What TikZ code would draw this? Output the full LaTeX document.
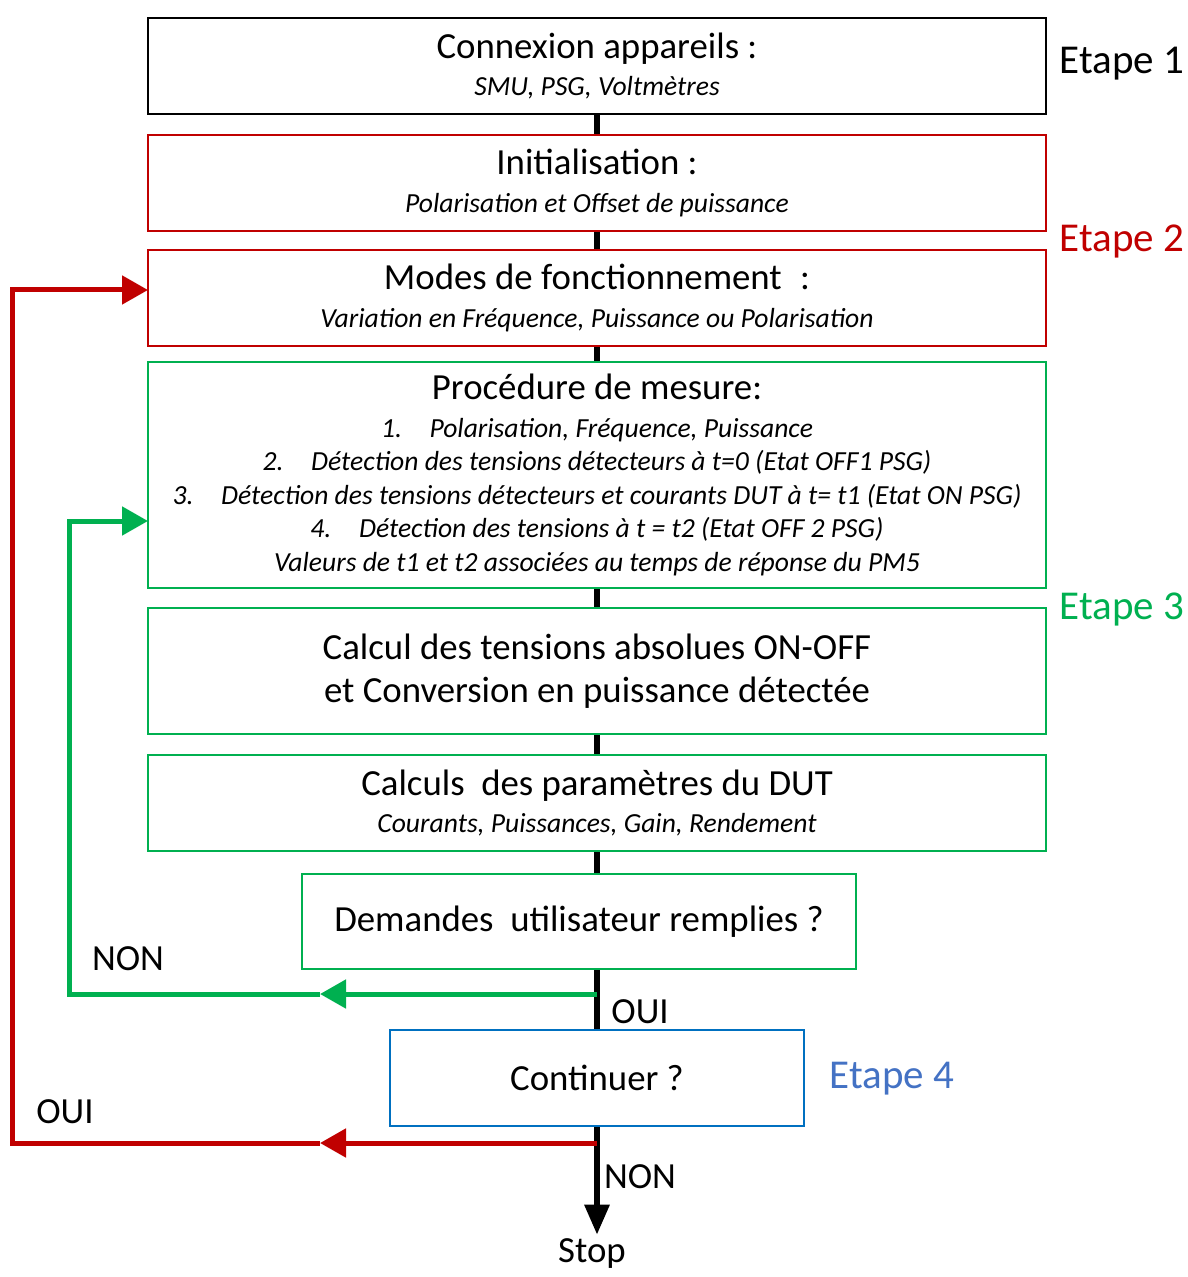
\documentclass[tikz,border=0pt]{standalone}
\usepackage{fontspec}
\setmainfont{Carlito}
\usetikzlibrary{arrows.meta,positioning}
\definecolor{stepred}{HTML}{C00000}
\definecolor{stepgreen}{HTML}{00B050}
\definecolor{stepblue}{HTML}{0070C0}
\definecolor{labelblue}{HTML}{4472C4}
\newcommand{\boxhead}[1]{{\fontsize{18.4}{21}\selectfont #1}}

\begin{document}
\begin{tikzpicture}[x=0.5pt, y=-0.5pt,
  box/.style={rectangle, draw, line width=1pt, minimum width=449pt, minimum height=48pt, align=center, inner sep=0pt, font=\fontsize{13.8}{16.8}\selectfont},
  trunk/.style={line width=3pt},
  feedback/.style={line width=2.5pt},
  head/.style={-{Triangle[length=13pt,width=14pt]}},
  answer/.style={font=\fontsize{18.4}{21}\selectfont},
  stage/.style={font=\fontsize{20.5}{24}\selectfont}
]
  \useasboundingbox (0,0) rectangle (1187,1277);

  % Etape 1
  \node[box, line width=1.2pt] (conn) at (597,66) {\boxhead{Connexion appareils :}\\[2pt]\textit{SMU, PSG, Voltmètres}};

  % Etape 2
  \node[box, draw=stepred] (init) at (597,183) {\boxhead{Initialisation :}\\[2pt]\textit{Polarisation et Offset de puissance}};
  \node[box, draw=stepred] (modes) at (597,298) {\boxhead{Modes de fonctionnement\enspace:}\\[2pt]\textit{Variation en Fréquence, Puissance ou Polarisation}};

  % Etape 3
  \node[box, draw=stepgreen, minimum height=113pt] (mesure) at (597,475) {\boxhead{Procédure de mesure:}\\[2pt]
    \textit{1.\hspace{1em}Polarisation, Fréquence, Puissance}\\
    \textit{2.\hspace{1em}Détection des tensions détecteurs à t=0 (Etat OFF1 PSG)}\\
    \textit{3.\hspace{1em}Détection des tensions détecteurs et courants DUT à t= t1 (Etat ON PSG)}\\
    \textit{4.\hspace{1em}Détection des tensions à t = t2 (Etat OFF 2 PSG)}\\
    \textit{Valeurs de t1 et t2 associées au temps de réponse du PM5}};
  \node[box, draw=stepgreen, minimum height=63pt, font=\fontsize{18.4}{21.5}\selectfont] (conv) at (597,671) {Calcul des tensions absolues ON-OFF\\ et Conversion en puissance détectée};
  \node[box, draw=stepgreen] (param) at (597,803) {\boxhead{Calculs~ des paramètres du DUT}\\[2pt]\textit{Courants, Puissances, Gain, Rendement}};
  \node[box, draw=stepgreen, minimum width=277pt, minimum height=47.5pt, font=\fontsize{18.4}{21}\selectfont] (demande) at (579,921.5) {Demandes~ utilisateur remplies ?};

  % Etape 4
  \node[box, draw=stepblue, minimum width=207pt, font=\fontsize{18.4}{21}\selectfont] (cont) at (597,1078) {Continuer ?};
  \node[answer, inner sep=2pt] (stop) at (592,1254) {Stop};

  % main line
  \foreach \a/\b in {conn/init, init/modes, modes/mesure, mesure/conv, conv/param}
    \draw[trunk] (\a.south) -- (\b.north);
  \draw[trunk] (param.south) -- (param.south |- demande.north);

  \coordinate (gsplit) at (597,994);
  \coordinate (gmid) at (320,994);
  \coordinate (gback) at (69,994);
  \coordinate (gin) at (148,521);
  \coordinate (rsplit) at (597,1143);
  \coordinate (rmid) at (320,1143);
  \coordinate (rback) at (12,1143);
  \coordinate (rin) at (148,290);

  \draw[trunk] (demande.south -| gsplit) -- (cont.north -| gsplit);
  \draw[trunk, -{Triangle[length=15pt,width=12pt]}] (cont.south -| rsplit) -- (stop.north -| rsplit);

  % loops
  \draw[feedback, stepgreen, head] (gsplit) -- (gmid);
  \draw[feedback, stepgreen, head] (gmid) -- (gback) |- (gin);
  \draw[feedback, stepred, head] (rsplit) -- (rmid);
  \draw[feedback, stepred, head] (rmid) -- (rback) |- (rin);

  % answers
  \node[answer] (nonloop) at (128,959) {NON};
  \node[answer] (ouicont) at (640,1012) {OUI};
  \node[answer] (ouiloop) at (65,1112) {OUI};
  \node[answer] (nonstop) at (640,1177) {NON};

  % stage labels
  \node[stage] (etape1) at (1122,64) {Etape 1};
  \node[stage, text=stepred] (etape2) at (1122,242) {Etape 2};
  \node[stage, text=stepgreen] (etape3) at (1122,609) {Etape 3};
  \node[stage, text=labelblue] (etape4) at (892,1079) {Etape 4};
\end{tikzpicture}
\end{document}
